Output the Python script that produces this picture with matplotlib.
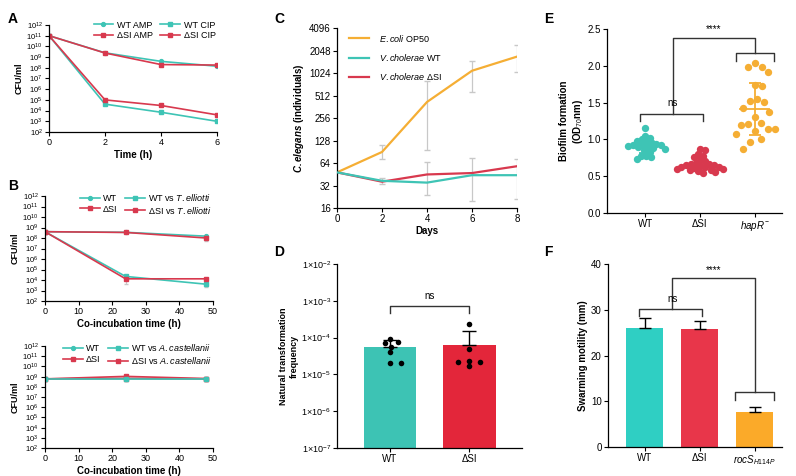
import numpy as np
import matplotlib
matplotlib.use("Agg")
import matplotlib.pyplot as plt

plt.rcParams['font.family'] = ['Liberation Sans', 'DejaVu Sans']
plt.rcParams['mathtext.fontset'] = 'custom'
plt.rcParams['mathtext.rm'] = 'Liberation Sans'
plt.rcParams['mathtext.it'] = 'Liberation Sans:italic'
plt.rcParams['mathtext.bf'] = 'Liberation Sans:bold'
plt.rcParams['mathtext.bfit'] = 'Liberation Sans:italic:bold'
plt.rcParams['axes.linewidth'] = 0.9

TEAL = "#3EC4B5"
RED = "#D8394E"
ORANGE = "#F5AE34"
GREY = "#C8C8C8"

# ---- data ----
# A: antibiotic killing
time_a = [0, 2, 4, 6]
wt_amp = [1e11, 2.5e9, 4e8, 1.4e8]
si_amp = [1e11, 2.4e9, 2e8, 1.8e8]
wt_cip = [1e11, 4e4, 7e3, 1e3]
si_cip = [1e11, 1e5, 3e4, 4e3]

# B: co-incubation with T. elliotti / A. castellanii
time_b = [0, 24, 48]
wt_ctrl_t = [4e8, 3.5e8, 1.5e8]
si_ctrl_t = [4e8, 3.4e8, 1e8]
wt_vs_t = [4e8, 2.2e4, 4e3]
si_vs_t = [4e8, 1.3e4, 1.3e4]
wt_ctrl_a = [6e8, 6.5e8, 6e8]
si_ctrl_a = [6e8, 1.05e9, 6.5e8]
wt_vs_a = [6e8, 6e8, 6e8]
si_vs_a = [6e8, 6.5e8, 6e8]

# C: C. elegans growth
days = [0, 2, 4, 6, 8]
ecoli = [48, 90, 420, 1100, 1700]
ecoli_lo = [48, 72, 95, 570, 1050]
ecoli_hi = [48, 110, 800, 1500, 2450]
vc_wt = [48, 37, 35, 44, 44]
vc_si = [48, 36, 45, 47, 58]
vc_lo = [48, 34, 24, 20, 21]
vc_hi = [48, 40, 67, 75, 73]

# D: natural transformation
d_groups = ["WT", "ΔSI"]
d_means = [5.5e-5, 6.3e-5]
d_err_hi = [8.5e-5, 1.5e-4]
d_pts_wt = [9e-5, 7.5e-5, 7e-5, 5.5e-5, 4e-5, 2.1e-5, 2e-5]
d_pts_si = [2.3e-4, 5e-5, 2.3e-5, 2.2e-5, 2.2e-5, 1.7e-5]

# E: biofilm
e_groups = ["WT", "ΔSI", r"$\mathit{hapR}^{-}$"]
e_wt = [1.16, 1.05, 1.02, 1.0, 0.98, 0.97, 0.95, 0.94, 0.93, 0.92, 0.92,
        0.91, 0.9, 0.89, 0.88, 0.87, 0.85, 0.83, 0.78, 0.77, 0.76, 0.74]
e_si = [0.87, 0.85, 0.8, 0.78, 0.76, 0.72, 0.7, 0.68, 0.67, 0.66, 0.65, 0.65,
        0.64, 0.63, 0.63, 0.62, 0.61, 0.6, 0.6, 0.59, 0.58, 0.57, 0.56, 0.55]
e_hapr = [2.04, 1.99, 1.98, 1.92, 1.74, 1.72, 1.55, 1.52, 1.51, 1.43, 1.37,
          1.31, 1.22, 1.21, 1.2, 1.14, 1.14, 1.11, 1.08, 1.0, 0.97, 0.87]

# F: swarming
f_groups = ["WT", "ΔSI", r"$\mathit{rocS}_{H114P}$"]
f_means = [26.0, 25.8, 7.7]
f_err = [2.2, 1.7, 1.1]


def swarm(vals, diam_y, diam_x):
    # simple beeswarm: offsets in x units so markers don't overlap
    placed = []
    offs = []
    for v in vals:
        cands = [0.0]
        for (px, pv) in placed:
            dy = (v - pv) / diam_y
            if abs(dy) < 1:
                dx = np.sqrt(1 - dy ** 2)
                cands += [px + dx, px - dx]
        cands.sort(key=abs)
        for c in cands:
            ok = True
            for (px, pv) in placed:
                if ((c - px) ** 2 + ((v - pv) / diam_y) ** 2) < 0.999:
                    ok = False
                    break
            if ok:
                placed.append((c, v))
                offs.append(c * diam_x)
                break
    return np.array(offs)


def clean(ax):
    ax.spines['top'].set_visible(False)
    ax.spines['right'].set_visible(False)
    ax.tick_params(length=3, width=0.8, pad=1.5)


fig = plt.figure(figsize=(7.96, 4.76), dpi=100)

decades = [10.0 ** k for k in range(2, 13)]
dec_labels = [r"$10^{%d}$" % k for k in range(2, 13)]


def log_cfu(ax, xmax, xticks, xlabel):
    ax.set_yscale('log')
    ax.set_ylim(1e2, 1e12)
    ax.set_yticks(decades)
    ax.set_yticklabels(dec_labels, fontsize=5.5)
    ax.minorticks_off()
    ax.set_xlim(0, xmax)
    ax.set_xticks(xticks)
    ax.tick_params(axis='x', labelsize=6.5)
    ax.set_xlabel(xlabel, fontsize=7, fontweight='bold', labelpad=2)
    ax.set_ylabel("CFU/ml", fontsize=6.5, fontweight='bold', labelpad=2)
    clean(ax)


def line(ax, x, y, c, mk):
    return ax.plot(x, y, color=c, lw=1.2, marker=mk, ms=2.8, mfc=c, mec=c)[0]


leg_kw = dict(ncol=2, fontsize=6.5, frameon=False, loc='upper right',
              bbox_to_anchor=(1.03, 1.1), handlelength=2.2, columnspacing=0.8,
              labelspacing=0.2, handletextpad=0.4, borderpad=0.2)

# ---- A ----
axA = fig.add_axes([0.0616, 0.7227, 0.211, 0.2248])
h1 = line(axA, time_a, wt_amp, TEAL, 'o')
h2 = line(axA, time_a, si_amp, RED, 's')
h3 = line(axA, time_a, wt_cip, TEAL, 's')
h4 = line(axA, time_a, si_cip, RED, 's')
axA.errorbar([4, 6], [2e8, 1.8e8], yerr=[[0.6e8, 0.4e8], [0.6e8, 0.6e8]],
             fmt='none', ecolor=GREY, elinewidth=0.8, capsize=1.5, zorder=1)
log_cfu(axA, 6, [0, 2, 4, 6], "Time (h)")
axA.legend([h1, h2, h3, h4], ["WT AMP", "ΔSI AMP", "WT CIP", "ΔSI CIP"], **leg_kw)

# ---- B top ----
axB1 = fig.add_axes([0.0565, 0.3676, 0.211, 0.2206])
g1 = line(axB1, time_b, wt_ctrl_t, TEAL, 'o')
g2 = line(axB1, time_b, si_ctrl_t, RED, 's')
g3 = line(axB1, time_b, wt_vs_t, TEAL, 's')
g4 = line(axB1, time_b, si_vs_t, RED, 's')
axB1.errorbar([48, 24, 48], [1e8, 1.3e4, 4e3], yerr=[[0.5e8, 0.9e4, 2e3], [0.2e8, 1e4, 2e3]],
              fmt='none', ecolor=GREY, elinewidth=0.8, capsize=1.5, zorder=1)
log_cfu(axB1, 50, [0, 10, 20, 30, 40, 50], "Co-incubation time (h)")
axB1.legend([g1, g2, g3, g4],
            ["WT", "ΔSI", r"WT vs $\mathit{T. elliotti}$", r"ΔSI vs $\mathit{T. elliotti}$"],
            **leg_kw)

# ---- B bottom ----
axB2 = fig.add_axes([0.0565, 0.0588, 0.211, 0.2143])
k1 = line(axB2, time_b, wt_ctrl_a, TEAL, 'o')
k2 = line(axB2, time_b, si_ctrl_a, RED, 's')
k4 = line(axB2, time_b, si_vs_a, RED, 's')
k3 = line(axB2, time_b, wt_vs_a, TEAL, 's')
axB2.errorbar(time_b, wt_vs_a, yerr=[[2e8] * 3, [3e8] * 3], fmt='none', ecolor=GREY,
              elinewidth=2.0, capsize=1.5, zorder=1)
log_cfu(axB2, 50, [0, 10, 20, 30, 40, 50], "Co-incubation time (h)")
axB2.legend([k1, k2, k3, k4],
            ["WT", "ΔSI", r"WT vs $\mathit{A. castellanii}$", r"ΔSI vs $\mathit{A. castellanii}$"],
            **leg_kw)

# ---- C ----
axC = fig.add_axes([0.4234, 0.563, 0.2261, 0.378])
ecoli = np.array(ecoli)
axC.errorbar(days[1:], ecoli[1:], yerr=[ecoli[1:] - np.array(ecoli_lo[1:]),
                                        np.array(ecoli_hi[1:]) - ecoli[1:]],
             fmt='none', ecolor=GREY, elinewidth=0.9, capsize=2.5, zorder=1)
vc_si_a = np.array(vc_si)
axC.errorbar(days[1:], vc_si_a[1:], yerr=[vc_si_a[1:] - np.array(vc_lo[1:]),
                                          np.array(vc_hi[1:]) - vc_si_a[1:]],
             fmt='none', ecolor=GREY, elinewidth=0.9, capsize=2.5, zorder=1)
axC.plot(days, ecoli, color=ORANGE, lw=1.6, label=r"$\mathit{E. coli}$ OP50")
axC.plot(days, vc_wt, color=TEAL, lw=1.6, label=r"$\mathit{V. cholerae}$ WT", zorder=3)
axC.plot(days, vc_si, color=RED, lw=1.6, label=r"$\mathit{V. cholerae}$ ΔSI", zorder=2)
axC.set_yscale('log', base=2)
axC.set_ylim(16, 4096)
ct = [16, 32, 64, 128, 256, 512, 1024, 2048, 4096]
axC.set_yticks(ct)
axC.set_yticklabels([str(v) for v in ct], fontsize=7)
axC.minorticks_off()
axC.set_xlim(0, 8)
axC.set_xticks(days)
axC.tick_params(axis='x', labelsize=7)
axC.set_xlabel("Days", fontsize=7, fontweight='bold', labelpad=1)
axC.set_ylabel(r"$\mathbfit{C. elegans}$ (individuals)", fontsize=7, fontweight='bold', labelpad=2)
clean(axC)
h, l = axC.get_legend_handles_labels()
axC.legend(h, l, fontsize=6.5, frameon=False, loc='upper left', bbox_to_anchor=(0.02, 1.02),
           handlelength=2.2, labelspacing=0.9, handletextpad=1.2)

# ---- D ----
axD = fig.add_axes([0.4234, 0.0588, 0.2324, 0.3866])
xd = np.arange(len(d_groups))
axD.bar(xd, d_means, width=0.67, color=["#3DC3B4", "#E3263A"], zorder=1)
axD.errorbar(xd, d_means, yerr=[[0, 0], np.array(d_err_hi) - np.array(d_means)],
             fmt='none', ecolor='black', elinewidth=1.0, capsize=5, capthick=1.0, zorder=2)
for i, pts in enumerate([d_pts_wt, d_pts_si]):
    lv = np.log10(pts)
    off = swarm(lv, 0.12, 0.14)
    axD.scatter(xd[i] + off, pts, s=16, color='black', zorder=3, lw=0)
axD.set_yscale('log')
axD.set_ylim(1e-7, 1e-2)
axD.set_yticks([10.0 ** k for k in range(-7, -1)])
axD.set_yticklabels([r"1×10$^{%d}$" % k for k in range(-7, -1)], fontsize=6.5)
axD.minorticks_off()
axD.set_xlim(-0.67, 1.67)
axD.set_xticks(xd)
axD.set_xticklabels(d_groups, fontsize=7)
axD.set_ylabel("Natural transformation\nfrequency", fontsize=6.5, fontweight='bold', labelpad=2)
clean(axD)
axD.plot([0, 0, 1, 1], [4.7e-4, 7.2e-4, 7.2e-4, 4.7e-4], color='#333333', lw=1.0)
axD.text(0.5, 1.0e-3, "ns", ha='center', va='bottom', fontsize=7)

# ---- E ----
axE = fig.add_axes([0.7626, 0.5525, 0.2198, 0.3866])
e_cols = [TEAL, RED, ORANGE]
e_spread = [(0.075, 0.09), (0.075, 0.09), (0.2, 0.13)]
for i, vals in enumerate([e_wt, e_si, e_hapr]):
    off = swarm(vals, *e_spread[i])
    axE.scatter(i + off, vals, s=28, color=e_cols[i], lw=0, zorder=2)
    m = np.mean(vals)
    sd = np.std(vals)
    axE.plot([i - 0.27, i + 0.27], [m, m], color=e_cols[i], lw=1.3, zorder=3)
    axE.errorbar([i], [m], yerr=[[sd], [sd]], fmt='none', ecolor=e_cols[i],
                 elinewidth=1.3, capsize=4, capthick=1.3, zorder=3)
axE.set_ylim(0, 2.5)
axE.set_yticks([0, 0.5, 1.0, 1.5, 2.0, 2.5])
axE.set_yticklabels(["0.0", "0.5", "1.0", "1.5", "2.0", "2.5"], fontsize=7)
axE.set_xlim(-0.7, 2.5)
axE.set_xticks([0, 1, 2])
axE.set_xticklabels(e_groups, fontsize=7)
axE.set_ylabel("Biofilm formation\n(OD$_{70}$nm)", fontsize=7, fontweight='bold', labelpad=2)
clean(axE)
bk = '#333333'
axE.plot([-0.1, -0.1, 1.05, 1.05], [1.25, 1.34, 1.34, 1.25], color=bk, lw=1.0)
axE.text(0.5, 1.42, "ns", ha='center', va='bottom', fontsize=7)
axE.plot([1.65, 1.65, 2.35, 2.35], [2.07, 2.17, 2.17, 2.07], color=bk, lw=1.0)
axE.plot([0.5, 0.5, 2.0, 2.0], [1.34, 2.38, 2.38, 2.17], color=bk, lw=1.0)
axE.text(1.25, 2.43, "****", ha='center', va='bottom', fontsize=7)

# ---- F ----
axF = fig.add_axes([0.7638, 0.0609, 0.2186, 0.3845])
xf = np.arange(len(f_groups))
axF.bar(xf, f_means, width=0.67, color=["#2FCFC3", "#E8364A", "#FBAA29"], zorder=1)
axF.errorbar(xf, f_means, yerr=[[0, 0, 0], f_err], fmt='none', ecolor='black',
             elinewidth=1.0, capsize=4, capthick=1.0, zorder=2)
axF.set_ylim(0, 40)
axF.set_yticks([0, 10, 20, 30, 40])
axF.tick_params(axis='y', labelsize=7)
axF.set_xlim(-0.67, 2.5)
axF.set_xticks(xf)
axF.set_xticklabels(f_groups, fontsize=7)
axF.set_ylabel("Swarming motility (mm)", fontsize=7, fontweight='bold', labelpad=2)
clean(axF)
axF.plot([-0.1, -0.1, 1.05, 1.05], [28.6, 30.2, 30.2, 28.6], color=bk, lw=1.0)
axF.text(0.5, 31.2, "ns", ha='center', va='bottom', fontsize=7)
axF.plot([1.65, 1.65, 2.35, 2.35], [10.3, 12.0, 12.0, 10.3], color=bk, lw=1.0)
axF.plot([0.5, 0.5, 2.0, 2.0], [30.2, 37.0, 37.0, 12.0], color=bk, lw=1.0)
axF.text(1.25, 37.6, "****", ha='center', va='bottom', fontsize=7)

# panel letters
for lab, x, y in [("A", 0.01, 0.975), ("B", 0.01, 0.625), ("C", 0.345, 0.975),
                  ("D", 0.345, 0.485), ("E", 0.683, 0.975), ("F", 0.683, 0.485)]:
    fig.text(x, y, lab, fontsize=10, fontweight='bold', va='top', ha='left')

fig.savefig("out.png", dpi=100)
